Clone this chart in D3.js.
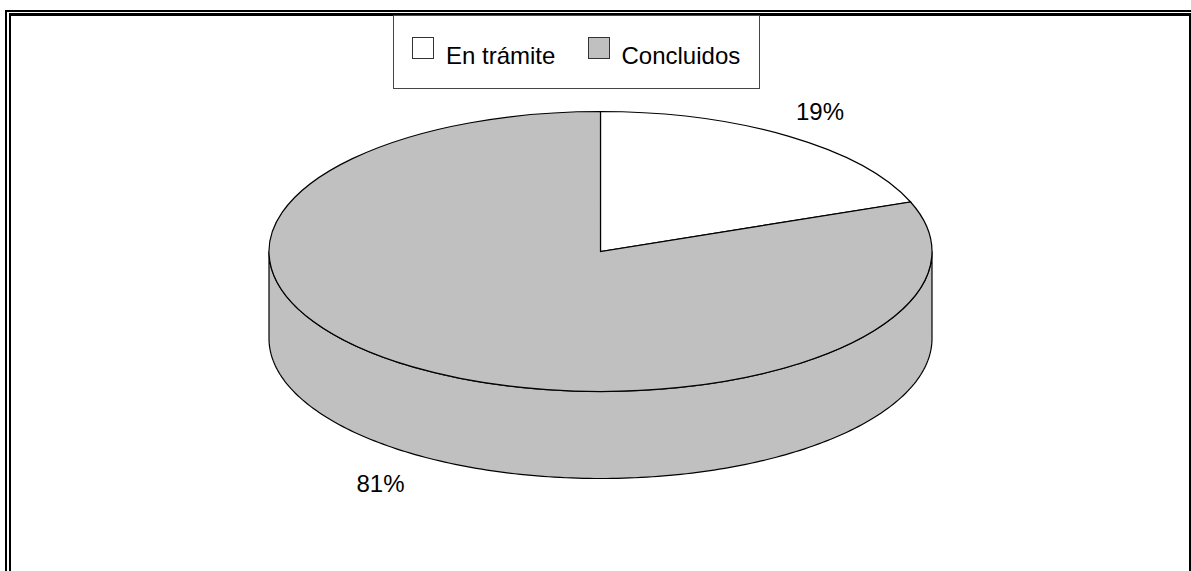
<!DOCTYPE html>
<html>
<head>
<meta charset="utf-8">
<style>
html,body{margin:0;padding:0;background:#fff;overflow:hidden}
svg{display:block}
text{font-family:"Liberation Sans",Arial,sans-serif;fill:#000}
</style>
<script src="https://d3js.org/d3.v7.min.js"></script>
</head>
<body>
<script>
const categories = ["En trámite", "Concluidos"];
const values = [19.25, 80.75];
const fills = ["#ffffff", "#c0c0c0"];

const W = 1191, H = 571;
const cx = 600.5, cy = 251.5, rx = 331.5, ry = 140, depth = 87;
const fontSize = 24;

const svg = d3.select("body").append("svg").attr("width", W).attr("height", H);

// Double frame
const frame = svg.append("g").attr("fill", "#000");
[[5,10,1186,2],[5,10,2,561],[9,13,1180,3],[9,13,2,558],[1189,13,2,558]].forEach(r=>{
  frame.append("rect").attr("x",r[0]).attr("y",r[1]).attr("width",r[2]).attr("height",r[3]);
});

// Pie
const pie = d3.pie().sort(null).value(d=>d)(values);
const arc = d3.arc().innerRadius(0).outerRadius(rx);
const yScale = ry/rx;

const toXY = a => [cx + rx*Math.sin(a), cy - ry*Math.cos(a)];

// Side wall: visible front half of the rim (π/2 .. 3π/2), entirely Concluidos
const wallSteps = d3.range(0, 181).map(i => Math.PI/2 + Math.PI*i/180);
const line = d3.line();
const wallTop = wallSteps.map(toXY);
const wallBottom = wallSteps.map(toXY).map(p=>[p[0],p[1]+depth]).reverse();
svg.append("path")
  .attr("d", line(wallTop.concat(wallBottom)) + "Z")
  .attr("fill", fills[1]).attr("stroke", "#000").attr("stroke-width", 1.2);

// Top face
svg.append("g").attr("transform", `translate(${cx},${cy}) scale(1,${yScale})`)
  .selectAll("path").data(pie).join("path")
  .attr("d", arc)
  .attr("fill", (d,i)=>fills[i])
  .attr("stroke", "#000").attr("stroke-width", 1.2)
  .attr("vector-effect", "non-scaling-stroke");

// Labels
const labelPos = [[796,120],[356.5,492]];
svg.append("g").selectAll("text").data(values).join("text")
  .attr("x",(d,i)=>labelPos[i][0]).attr("y",(d,i)=>labelPos[i][1])
  .attr("font-size",fontSize).text(d=>Math.round(d)+"%");

// Legend
const lg = svg.append("g");
lg.append("rect").attr("x",393.5).attr("y",15.5).attr("width",366).attr("height",73)
  .attr("fill","#fff").attr("stroke","#444").attr("stroke-width",1);
const swatchX = [412.5,588.5], textX = [446,621.5];
categories.forEach((c,i)=>{
  lg.append("rect").attr("x",swatchX[i]).attr("y",37.5).attr("width",21).attr("height",21)
    .attr("fill",fills[i]).attr("stroke","#333").attr("stroke-width",1);
  lg.append("text").attr("x",textX[i]).attr("y",64).attr("font-size",fontSize).text(c);
});
</script>
</body>
</html>
